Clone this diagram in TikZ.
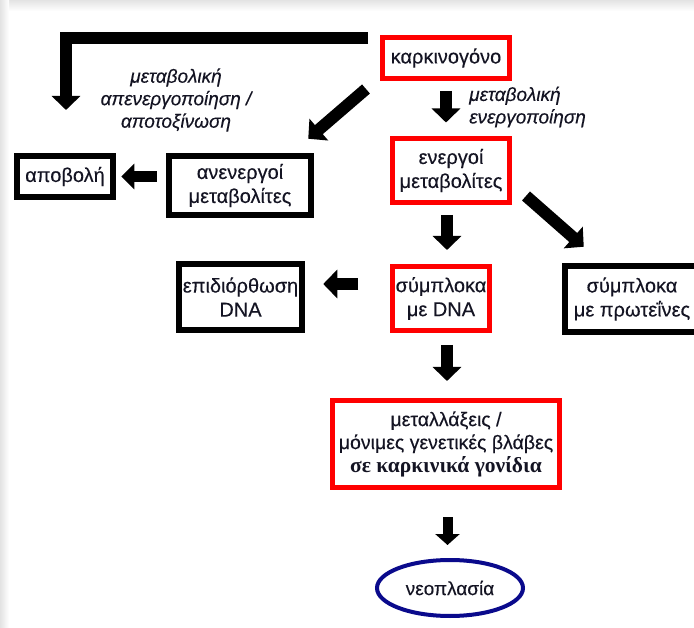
\documentclass[tikz,border=0pt]{standalone}
\usepackage{fontspec}
\setmainfont[FakeBold=0.25]{Liberation Sans}
\newfontfamily\serifgr{Liberation Serif}
\usetikzlibrary{arrows.meta,shapes.geometric,calc}
\definecolor{boxred}{RGB}{255,0,0}
\definecolor{ovalblue}{RGB}{10,10,140}
\definecolor{txt}{RGB}{20,20,35}
\begin{document}
\begin{tikzpicture}[x=1pt,y=-1pt,
  boxtext/.style={inner sep=0pt,align=center,text=txt,font=\fontsize{20}{24}\selectfont},
  redbox/.style={boxtext,draw=boxred,line width=5pt},
  blackbox/.style={boxtext,draw=black,line width=6.5pt},
  blk/.style={line width=12pt,-{Triangle[length=14pt,width=28pt]}},
  blksmall/.style={line width=11pt,-{Triangle[length=13pt,width=25pt]}},
  lbl/.style={inner sep=0pt,text=txt,font=\fontsize{19}{22.5}\selectfont\itshape}]
\useasboundingbox (0,0) rectangle (694,628);
\clip (0,0) rectangle (694,628);
\shade[top color=gray!22,bottom color=white] (0,0) rectangle (694,11);
\shade[left color=gray!22,right color=white] (0,0) rectangle (9,628);
\fill[white] (9,11) rectangle (694,628);

% nodes
\node[redbox,minimum width=127pt,minimum height=41pt] (karkino) at (446,58) {καρκινογόνο};
\node[redbox,minimum width=117pt,minimum height=64pt] (energoi) at (451,170.5) {ενεργοί\\μεταβολίτες};
\node[blackbox,minimum width=142pt,minimum height=59pt] (anenergoi) at (240,185.5) {ανενεργοί\\μεταβολίτες};
\node[blackbox,minimum width=96pt,minimum height=41pt] (apovoli) at (65,176.5) {αποβολή};
\node[blackbox,minimum width=123pt,minimum height=66pt] (epid) at (240.5,297) {επιδιόρθωση\\DNA};
\node[redbox,minimum width=97pt,minimum height=64pt] (sumDNA) at (441,298.5) {σύμπλοκα\\με DNA};
\node[blackbox,minimum width=134pt,minimum height=66pt] (sumprot) at (632,299) {σύμπλοκα\\με πρωτεΐνες};
\node[redbox,minimum width=227pt,minimum height=87pt,font=\fontsize{19.5}{23}\selectfont] (metal) at (446,444)
  {μεταλλάξεις /\\μόνιμες γενετικές βλάβες\\{\serifgr\bfseries\fontsize{21.5}{23}\selectfont σε καρκινικά γονίδια}};
\node[ellipse,draw=ovalblue,line width=4pt,inner sep=0pt,minimum width=146pt,minimum height=56pt,
  text=txt,font=\fontsize{19}{23}\selectfont] (neo) at (450,588) {νεοπλασία};

% labels
\node[lbl,align=center] (lblapen) at (176,100) {μεταβολική\\απενεργοποίηση /\\αποτοξίνωση};
\node[lbl,align=left,anchor=west] (lblen) at (469,107) {μεταβολική\\ενεργοποίηση};

% connectors
\coordinate (elbowtip) at (66,110);
\draw[blk] ($(karkino.north west)+(-12,3)$) -| (elbowtip);
\draw[blk] ($(karkino.south west)+(-14,8)$) -- ($(anenergoi.north east)+(-6,-14)$);
\draw[blk] ($(karkino.south)+(0,10)$) -- ($(karkino.south |- energoi.north)+(0,-13.5)$);
\draw[blksmall] ($(anenergoi.west |- apovoli.east)+(-9,0)$) -- ($(apovoli.east)+(5,0)$);
\draw[blk] ($(energoi.south)+(-4,10)$) -- ($(energoi.south |- sumDNA.north)+(-4,-14)$);
\draw[blk] ($(energoi.south east)+(14,-9)$) -- ($(sumprot.north west)+(22,-16)$);
\draw[blk] ($(sumDNA.west)+(-32,-14.5)$) -- ($(epid.east)+(18,-13)$);
\draw[blk] ($(sumDNA.south)+(6,12)$) -- ($(metal.north)+(1,-17)$);
\draw[line width=10pt,-{Triangle[length=11pt,width=24pt]}] ($(metal.south)+(1.5,27)$) -- ($(neo.north)+(-2.5,-13)$);
\end{tikzpicture}
\end{document}
